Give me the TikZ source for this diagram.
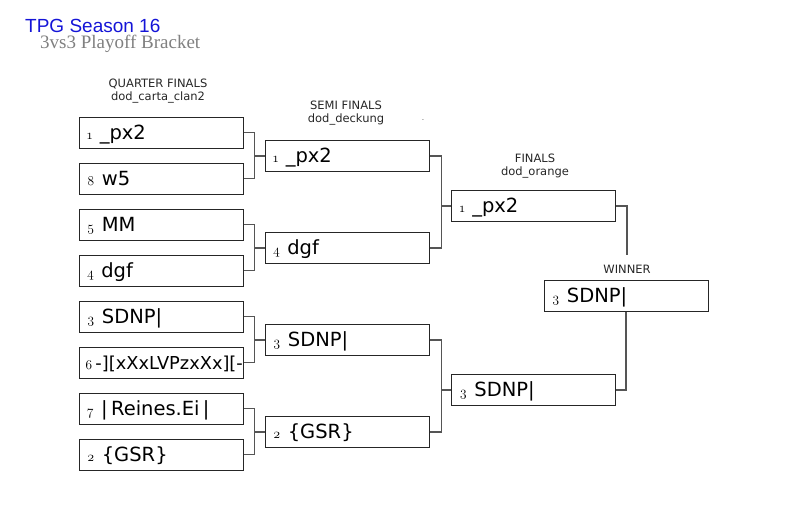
\documentclass[tikz,border=0pt]{standalone}
\usepackage{fontspec}
\setmainfont{DejaVu Sans}
\newfontfamily\titlefont{Liberation Sans}
\newfontfamily\subtitlefont{Liberation Serif}
\newfontfamily\seedfont{Latin Modern Roman}[Numbers=OldStyle]
\definecolor{titleblue}{RGB}{20,20,215}
\definecolor{subgray}{RGB}{128,128,128}
\definecolor{linegray}{RGB}{85,85,85}
\newcommand{\teamentry}[2]{\mbox{{\seedfont\fontsize{13.5}{13}\selectfont #1}\hspace{7.5pt}{\fontsize{19.5}{20}\selectfont #2}}}
\tikzstyle{team} = [rectangle,
minimum height=31pt,
text width=148pt,
inner xsep=8pt,
inner ysep=0pt,
text height=14pt,
text depth=1pt,
align=left,
draw=black!85,
line width=1pt]
\tikzstyle{round} = [align=center,
inner sep=0pt,
text=black!85,
font=\fontsize{11.5}{13}\selectfont]
\tikzstyle{link} = [draw=linegray, line width=1.3pt]

\begin{document}
\begin{tikzpicture}[x=1pt, y=-1pt, node distance=46pt]
			\useasboundingbox (0,0) rectangle (800,506);
			\node (title) [anchor=base west, inner sep=0pt, text=titleblue, font=\titlefont\fontsize{19}{19}\selectfont] at (25,32.5) {TPG Season 16};
			\node (subtitle) [anchor=base west, inner sep=0pt, text=subgray, font=\subtitlefont\fontsize{19}{19}\selectfont] at (40,48.3) {3vs3 Playoff Bracket};

			\node (qf) [round] at (158,91) {QUARTER FINALS\\dod\_carta\_clan2};
			\node (sf) [round] at (346,113.5) {SEMI FINALS\\dod\_deckung};
			\node (fi) [round] at (535,166.5) {FINALS\\dod\_orange};
			\node (wi) [round] at (627,269) {WINNER};
			\node (dot) [inner sep=0pt, font=\fontsize{6}{6}\selectfont] at (423,120) {.};

			\node (q1) [team] at (161,132.5) {\teamentry{1}{\_px2}};
			\node (q8) [team, below of=q1] {\teamentry{8}{w5}};
			\node (q5) [team, below of=q8] {\teamentry{5}{MM}};
			\node (q4) [team, below of=q5] {\teamentry{4}{dgf}};
			\node (q3) [team, below of=q4] {\teamentry{3}{SDNP|}};
			\node (q6) [team, below of=q3, inner xsep=6pt, text width=152pt] {\mbox{{\seedfont\fontsize{13.5}{13}\selectfont 6}\hspace{3pt}{\fontsize{17.8}{20}\selectfont -][xXxLVPzxXx][-}}};
			\node (q7) [team, below of=q6] {\teamentry{7}{| Reines.Ei |}};
			\node (q2) [team, below of=q7] {\teamentry{2}{\{GSR\}}};

			\node (s1) [team] at (347,156) {\teamentry{1}{\_px2}};
			\node (s4) [team, below of=s1, node distance=92pt] {\teamentry{4}{dgf}};
			\node (s3) [team, below of=s4, node distance=92pt] {\teamentry{3}{SDNP|}};
			\node (s2) [team, below of=s3, node distance=92pt] {\teamentry{2}{\{GSR\}}};

			\node (f1) [team] at (533.5,206) {\teamentry{1}{\_px2}};
			\node (f2) [team] at (533.5,390) {\teamentry{3}{SDNP|}};

			\node (w) [team] at (626,296) {\teamentry{3}{SDNP|}};
			\coordinate (wtop) at (627,255);

			% quarter finals -> semi finals
			\draw[link] (q1.east) -- ++(11,0) |- (s1.west);
			\draw[link] (q8.east) -- ++(11,0) |- (s1.west);
			\draw[link] (q5.east) -- ++(11,0) |- (s4.west);
			\draw[link] (q4.east) -- ++(11,0) |- (s4.west);
			\draw[link] (q3.east) -- ++(11,0) |- (s3.west);
			\draw[link] (q6.east) -- ++(11,0) |- (s3.west);
			\draw[link] (q7.east) -- ++(11,0) |- (s2.west);
			\draw[link] (q2.east) -- ++(11,0) |- (s2.west);
			% semi finals -> finals
			\draw[link] (s1.east) -- ++(12,0) |- (f1.west);
			\draw[link] (s4.east) -- ++(12,0) |- (f1.west);
			\draw[link] (s3.east) -- ++(12,0) |- (f2.west);
			\draw[link] (s2.east) -- ++(12,0) |- (f2.west);
			% finals -> winner
			\draw[link] (f1.east) -| (wtop);
			\draw[link] (w.south) |- (f2.east);
		\end{tikzpicture}
\end{document}
